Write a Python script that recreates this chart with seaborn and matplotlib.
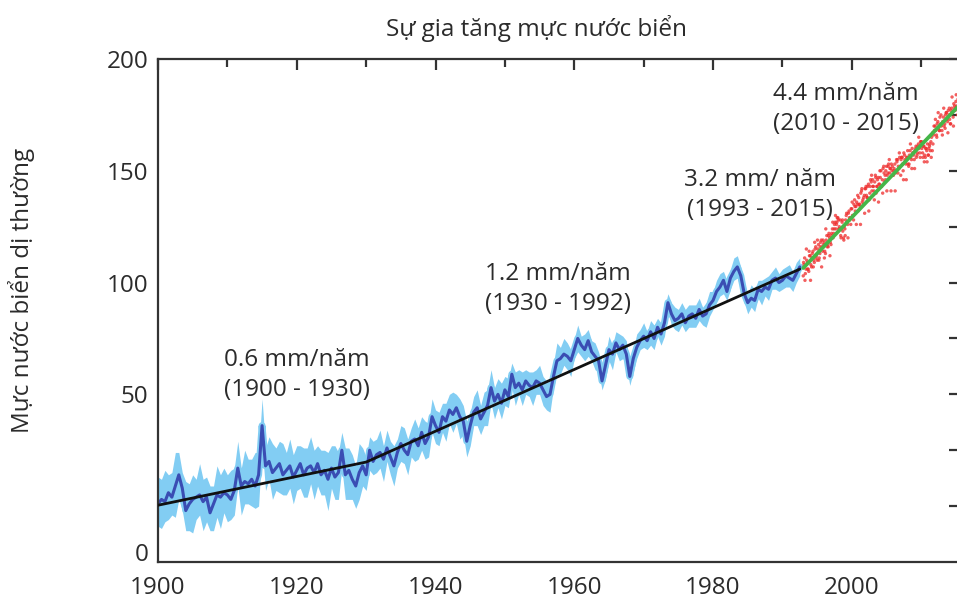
import numpy as np
import pandas as pd
import matplotlib
matplotlib.use("Agg")
import matplotlib.pyplot as plt
import seaborn as sns
from matplotlib.ticker import MultipleLocator, FixedLocator

# ---------------- data ----------------
# tide-gauge reconstruction (mm), half-year steps starting 1900.0
tg_start = 1900.0
tg_step = 0.5
tg_gmsl = [
    1, 3, 2, 6, 4, 9, 14, 8, -2, 1, 3, 4, 5, 2, 4, -3, 1, 5, 4, 6,          # 1900s
    5, 3, 7, 17, 9, 11, 10, 12, 9, 14, 36, 18, 20, 15, 17, 19, 14, 16, 18, 13,  # 1910s
    16, 19, 14, 17, 18, 15, 19, 14, 16, 12, 17, 13, 15, 25, 14, 16, 12, 9, 15, 18,  # 1920s
    14, 25, 20, 23, 24, 21, 26, 22, 18, 24, 28, 25, 23, 29, 30, 27, 33, 28, 31, 40,  # 1930s
    36, 33, 40, 38, 43, 41, 44, 40, 38, 29, 36, 42, 44, 39, 42, 45, 53, 47, 50, 46,  # 1940s
    52, 49, 59, 53, 55, 52, 56, 54, 53, 56, 55, 52, 49, 50, 58, 65, 66, 68, 67, 65,  # 1950s
    70, 75, 72, 70, 74, 69, 67, 65, 56, 63, 70, 68, 73, 70, 72, 68, 58, 66, 71, 74,  # 1960s
    76, 74, 78, 75, 80, 77, 82, 91, 86, 83, 84, 86, 82, 85, 86, 84, 88, 85, 86, 90,  # 1970s
    92, 96, 98, 101, 96, 102, 105, 107, 103, 95, 91, 93, 92, 97, 96, 98, 97, 101, 102, 100,  # 1980s
    101, 103, 102, 101, 104, 107,                                            # 1990-1992
]
# upper / lower extent of the uncertainty band (mm above / below the series)
tg_err_up = [
    12, 9, 14, 8, 11, 15, 10, 7, 13, 9, 11, 8, 14, 10, 9, 12, 8, 13, 10, 11,
    9, 13, 10, 12, 8, 14, 11, 9, 15, 10, 12, 8, 11, 13, 9, 10, 14, 8, 12, 10,
    11, 8, 12, 9, 13, 10, 8, 11, 9, 12, 10, 14, 9, 8, 12, 10, 11, 9, 13, 8,
    8, 6, 9, 7, 10, 6, 8, 7, 9, 6, 8, 10, 7, 6, 9, 8, 7, 10, 6, 8,
    7, 9, 6, 8, 7, 10, 6, 8, 7, 9, 6, 7, 8, 6, 9, 7, 8, 6, 7, 9,
    6, 8, 5, 7, 6, 8, 5, 6, 7, 5, 8, 6, 7, 5, 6, 8, 5, 7, 6, 5,
    5, 6, 4, 7, 5, 5, 6, 4, 7, 5, 6, 4, 5, 7, 4, 6, 5, 4, 6, 5,
    6, 4, 5, 6, 4, 5, 7, 4, 5, 6, 4, 5, 6, 5, 4, 6, 5, 4, 5, 6,
    4, 5, 6, 4, 5, 4, 6, 5, 4, 5, 4, 6, 5, 4, 5, 4, 6, 4, 5, 4,
    5, 4, 6, 4, 5, 4,
]
tg_err_dn = [
    10, 13, 9, 12, 8, 14, 11, 10, 9, 12, 15, 10, 9, 13, 11, 8, 12, 10, 14, 9,
    12, 9, 11, 8, 13, 10, 9, 12, 10, 14, 9, 11, 8, 12, 10, 13, 9, 11, 10, 12,
    9, 11, 10, 13, 8, 12, 10, 9, 11, 14, 9, 10, 12, 8, 11, 13, 9, 10, 12, 9,
    7, 9, 6, 8, 7, 10, 6, 8, 9, 7, 8, 6, 9, 7, 10, 6, 8, 7, 9, 7,
    8, 6, 7, 9, 6, 8, 7, 10, 6, 7, 9, 6, 8, 7, 6, 9, 7, 8, 6, 7,
    7, 5, 6, 8, 5, 7, 6, 5, 8, 6, 5, 7, 6, 8, 5, 6, 7, 5, 6, 7,
    4, 6, 5, 5, 7, 4, 6, 5, 4, 6, 5, 7, 4, 5, 6, 5, 4, 6, 5, 4,
    5, 4, 6, 5, 4, 5, 6, 4, 5, 4, 6, 5, 4, 5, 6, 4, 5, 4, 6, 5,
    4, 5, 4, 6, 4, 5, 4, 5, 6, 4, 5, 4, 5, 4, 6, 4, 5, 4, 5, 4,
    4, 5, 4, 5, 4, 4,
]

# satellite altimetry (mm), three interleaved samplings
alt_a_start, alt_a_step = 1993.0, 0.2
alt_a = [
    103, 111, 106, 109, 105,  112, 107, 114, 109, 116,  110, 117, 113, 119, 114,
    118, 113, 121, 116, 120,  117, 124, 122, 127, 126,  129, 125, 121, 127, 120,
    124, 130, 126, 132, 129,  133, 130, 137, 134, 135,  138, 134, 141, 137, 139,
    142, 138, 144, 140, 145,  146, 141, 148, 143, 147,  144, 150, 146, 152, 148,
    152, 149, 155, 151, 150,  148, 153, 150, 155, 151,  152, 156, 150, 157, 153,
    156, 152, 159, 155, 158,  155, 160, 157, 162, 158,  163, 158, 161, 156, 159,
    157, 161, 163, 159, 166,  170, 166, 172, 168, 171,  168, 174, 171, 176, 172,
    175, 171, 178, 174, 179,  181, 178, 184,
]
alt_b_start, alt_b_step = 1993.1, 0.2
alt_b = [
    108, 104, 110, 106, 112,  108, 113, 110, 115, 112,  115, 111, 118, 116, 117,
    114, 119, 117, 122, 118,  122, 120, 126, 124, 129,  124, 128, 124, 123, 125,
    128, 127, 131, 128, 133,  130, 135, 132, 136, 132,  135, 140, 136, 138, 142,
    139, 143, 137, 146, 141,  143, 145, 140, 146, 144,  147, 143, 151, 145, 150,
    148, 153, 151, 153, 148,  151, 149, 154, 152, 156,  155, 153, 158, 154, 156,
    153, 157, 156, 160, 157,  159, 156, 161, 160, 163,  160, 161, 157, 160, 162,
    160, 159, 165, 162, 168,  168, 171, 169, 174, 170,  172, 170, 175, 173, 177,
    173, 177, 176, 180, 177,  179, 182,
]
alt_c_start, alt_c_step = 1993.05, 0.2
alt_c = [
    109, 101, 115, 106, 114,  101, 111, 107, 118, 111,  119, 110, 116, 107, 119,
    111, 124, 116, 121, 112,  121, 127, 124, 130, 127,  128, 124, 120, 128, 119,
    121, 131, 120, 129, 126,  136, 128, 134, 126, 139,  135, 126, 142, 135, 131,
    143, 138, 132, 143, 148,  143, 137, 147, 143, 136,  150, 143, 140, 149, 146,
    141, 152, 149, 141, 152,  150, 141, 155, 149, 158,  148, 156, 146, 155, 146,
    159, 153, 162, 151, 158,  151, 161, 158, 165, 156,  163, 156, 154, 160, 154,
    157, 162, 156, 167, 170,  173, 165, 176, 168, 175,  166, 178, 169, 176, 167,
    178, 171, 183, 170, 178,  184, 175,
]

# trend lines
trend_tg_years = [1900, 1930, 1992.5]
trend_tg_vals = [0.4, 19.7, 106.0]
trend_alt_years = [1993, 2015.4]
trend_alt_vals = [106.5, 179.0]

annotations = [
    ("0.6 mm/năm\n(1900 - 1930)", 1920.0, 58.6),
    ("1.2 mm/năm\n(1930 - 1992)", 1957.7, 97.1),
    ("3.2 mm/ năm\n(1993 - 2015)", 1986.8, 139.1),
    ("4.4 mm/năm\n(2010 - 2015)", 1999.2, 177.6),
]
title = "Sự gia tăng mực nước biển"
ylabel = "Mực nước biển dị thường"
ytick_vals = [-20.6, 50, 100, 150, 200]
ytick_labels = ["0", "50", "100", "150", "200"]

# ---------------- build frames ----------------
tg_years = tg_start + tg_step * np.arange(len(tg_gmsl))
tg = pd.DataFrame({"year": tg_years, "gmsl": tg_gmsl,
                   "up": tg_err_up, "dn": tg_err_dn})
alt = pd.concat([
    pd.DataFrame({"year": alt_a_start + alt_a_step * np.arange(len(alt_a)), "gmsl": alt_a}),
    pd.DataFrame({"year": alt_b_start + alt_b_step * np.arange(len(alt_b)), "gmsl": alt_b}),
    pd.DataFrame({"year": alt_c_start + alt_c_step * np.arange(len(alt_c)), "gmsl": alt_c}),
])

# ---------------- style ----------------
sns.set_theme(style="white")
plt.rcParams["font.family"] = ["Open Sans", "DejaVu Sans"]
TXT = "#2b2b2b"
FS = 17.5

fig = plt.figure(figsize=(9.57, 6.01), dpi=100)
ax = fig.add_axes([158 / 957, 1 - 562 / 601, 1 - 158 / 957 + 0.001, (562 - 59) / 601])

LIGHT = "#82cdf3"
DARK = "#3a4db3"

ax.fill_between(tg["year"], tg["gmsl"] - tg["dn"], tg["gmsl"] + tg["up"],
                color=LIGHT, lw=0, zorder=1)
sns.lineplot(data=tg, x="year", y="gmsl", ax=ax, color=LIGHT, lw=5, zorder=1.5)
sns.lineplot(data=tg, x="year", y="gmsl", ax=ax, color=DARK, lw=2.2, zorder=2)
sns.lineplot(x=trend_tg_years, y=trend_tg_vals, ax=ax, color="#111111", lw=2.0, zorder=3)
sns.scatterplot(data=alt, x="year", y="gmsl", ax=ax, color="#ee2b2b", s=6,
                edgecolor="none", alpha=0.75, zorder=2)
sns.lineplot(x=trend_alt_years, y=trend_alt_vals, ax=ax, color="#45b649", lw=2.7, zorder=4)

ax.set_xlim(1900, 2015.3)
ax.set_ylim(-25, 200)
ax.set_xlabel("")
ax.set_ylabel("")

# ticks
ax.xaxis.set_major_locator(MultipleLocator(20))
ax.xaxis.set_minor_locator(MultipleLocator(10))
ax.yaxis.set_major_locator(FixedLocator(ytick_vals))
ax.set_yticklabels(ytick_labels)
ax.yaxis.set_minor_locator(FixedLocator([0, 25, 75, 125, 175]))
ax.tick_params(axis="both", which="both", direction="in", top=True, right=True,
               color="#333333", width=1.6, labelcolor=TXT, labelsize=FS)
ax.tick_params(axis="x", which="major", length=8, pad=10)
ax.tick_params(axis="x", which="minor", length=5.5)
ax.tick_params(axis="y", which="major", length=6.5, pad=7)
ax.tick_params(axis="y", which="minor", length=6.5)
# the "0" label has no tick mark; the 0-level minor tick appears on the right only
t0 = ax.yaxis.get_major_ticks()[0]
t0.tick1line.set_visible(False)
t0.tick2line.set_visible(False)
for tk, v in zip(ax.yaxis.get_minor_ticks(), [0, 25, 75, 125, 175]):
    if v == 0:
        tk.tick1line.set_visible(False)

for side in ["left", "bottom", "top", "right"]:
    ax.spines[side].set_color("#333333")
    ax.spines[side].set_linewidth(1.6)
ax.spines["right"].set_visible(False)

for txt, x, y in annotations:
    ax.text(x, y, txt, ha="center", va="center", fontsize=FS, color=TXT,
            linespacing=1.3, zorder=5)

fig.text(536 / 957, 1 - 28 / 601, title, ha="center", va="center", fontsize=FS, color=TXT)
fig.text(22 / 957, 1 - 290 / 601, ylabel, ha="center", va="center", rotation=90,
         fontsize=FS, color=TXT)

fig.savefig("out.png", dpi=100)
